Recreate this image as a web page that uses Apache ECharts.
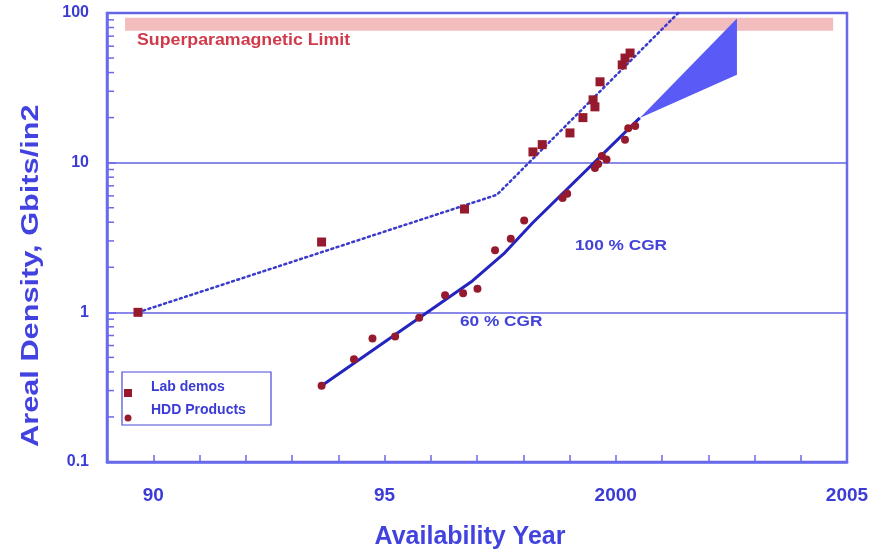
<!DOCTYPE html>
<html><head><meta charset="utf-8">
<script src="https://cdn.jsdelivr.net/npm/echarts@6/dist/echarts.min.js"></script>
<style>html,body{margin:0;padding:0;background:#fff}#c{width:886px;height:559px}</style>
</head><body><div id="c"></div>
<script>
// ---- data ----
const xTickLabels = {90: '90', 95: '95', 100: '2000', 105: '2005'};
const yTickLabels = {0.1: '0.1', 1: '1', 10: '10', 100: '100'};
const minorTickValues = [0.2,0.3,0.4,0.5,0.6,0.7,0.8,0.9,2,3,4,5,6,7,8,9,20,30,40,50,60,70,80,90];

const labYears  = [89.67, 93.64, 96.73, 98.21, 98.41, 99.01, 99.29, 99.51, 99.55, 99.66, 100.14, 100.2, 100.31];
const labValues = [1.0, 2.95, 4.9, 11.8, 13.2, 15.8, 20, 26.3, 23.6, 34.7, 45, 50, 54];

const hddYears  = [93.64, 94.34, 94.74, 95.23, 95.75, 96.31, 96.7, 97.01, 97.39, 97.73, 98.02, 98.85, 98.95, 99.55, 99.62, 99.7, 99.8, 100.2, 100.27, 100.42];
const hddValues = [0.323, 0.486, 0.668, 0.69, 0.92, 1.30, 1.34, 1.44, 2.6, 3.1, 4.1, 5.8, 6.2, 9.2, 9.8, 11.1, 10.5, 14.2, 17.0, 17.6];

const labTrendYears  = [89.67, 97.43, 101.35];
const labTrendValues = [1.0, 6.1, 100];

const hddTrendYears  = [93.64, 96.9, 97.6, 98.2, 100.52];
const hddTrendValues = [0.323, 1.62, 2.5, 3.95, 19.9];

const fanYears  = [100.52, 102.62, 102.62];
const fanValues = [19.9, 92, 38.6];

const bandYears  = [89.39, 104.7];
const bandValues = [76, 93];

// ---- chart ----
const BLUE = '#3b3bd6';
const FRAME = '#6a6aec';
const RED = '#951a2e';
const zip = (a, b) => a.map((v, i) => [v, b[i]]);

const chart = echarts.init(document.getElementById('c'), null, {renderer: 'canvas'});
chart.setOption({
  animation: false,
  backgroundColor: '#fff',
  grid: {left: 107, right: 39, top: 13, bottom: 97, show: true, borderColor: FRAME, borderWidth: 2.5, backgroundColor: 'transparent'},
  xAxis: {
    type: 'value', min: 89, max: 105, interval: 1,
    axisLine: {show: true, lineStyle: {color: FRAME, width: 2.5}},
    axisTick: {show: true, inside: true, length: 7, lineStyle: {color: FRAME, width: 1.5}},
    splitLine: {show: false},
    axisLabel: {
      margin: 24, color: BLUE, fontWeight: 'bold', fontSize: 19, fontFamily: 'Liberation Sans',
      formatter: v => xTickLabels[Math.round(v)] || ''
    },
    name: 'Availability Year', nameLocation: 'middle', nameGap: 63,
    nameTextStyle: {color: '#4242e0', fontWeight: 'bold', fontSize: 25, fontFamily: 'Liberation Sans', padding: [0, 14, 0, 0]}
  },
  yAxis: {
    type: 'log', logBase: 10, min: 0.1, max: 100,
    axisLine: {show: true, lineStyle: {color: FRAME, width: 2.5}},
    axisTick: {show: true, inside: true, length: 9, lineStyle: {color: FRAME, width: 1.5}},
    splitLine: {show: true, lineStyle: {color: '#6262e0', width: 1.5}},
    axisLabel: {
      margin: 18, color: BLUE, fontWeight: 'bold', fontSize: 16, fontFamily: 'Liberation Sans',
      formatter: v => yTickLabels[v] || String(v)
    }
  },
  series: [
    {
      type: 'custom', silent: true, z: 1,
      data: [[bandYears[0], bandValues[0]]],
      renderItem: (params, api) => {
        const p1 = api.coord([bandYears[0], bandValues[1]]);
        const p2 = api.coord([bandYears[1], bandValues[0]]);
        return {type: 'rect', shape: {x: p1[0], y: p1[1], width: p2[0] - p1[0], height: p2[1] - p1[1]}, style: {fill: '#f3bdbd'}};
      }
    },
    {
      type: 'custom', silent: true, z: 2,
      data: minorTickValues.map(v => [89, v]),
      renderItem: (params, api) => {
        const p = api.coord([api.value(0), api.value(1)]);
        return {type: 'line', shape: {x1: p[0], y1: p[1], x2: p[0] + 7, y2: p[1]}, style: {stroke: FRAME, lineWidth: 1.5}};
      }
    },
    {
      type: 'custom', silent: true, z: 3,
      data: [[fanYears[0], fanValues[0]]],
      renderItem: (params, api) => {
        const pts = fanYears.map((x, i) => api.coord([x, fanValues[i]]));
        return {type: 'polygon', shape: {points: pts}, style: {fill: '#5a5af6'}};
      }
    },
    {
      name: 'labTrend', type: 'line', z: 4, symbol: 'none', silent: true,
      data: zip(labTrendYears, labTrendValues),
      lineStyle: {color: '#3a3acc', width: 2.5, type: [2, 3.5], cap: 'round'}
    },
    {
      name: 'hddTrend', type: 'line', z: 4, symbol: 'none', silent: true,
      data: zip(hddTrendYears, hddTrendValues),
      lineStyle: {color: '#2424c0', width: 3}
    },
    {
      name: 'Lab demos', type: 'scatter', z: 5, symbol: 'rect', symbolSize: 9,
      data: zip(labYears, labValues),
      itemStyle: {color: RED, opacity: 1}
    },
    {
      name: 'HDD Products', type: 'scatter', z: 5, symbol: 'circle', symbolSize: 8,
      data: zip(hddYears, hddValues),
      itemStyle: {color: RED, opacity: 1}
    }
  ],
  graphic: [
    {type: 'text', x: 137, y: 33, scaleX: 1.11, z: 10, style: {text: 'Superparamagnetic Limit', fill: '#d03a4a', font: 'bold 16px "Liberation Sans"'}},
    {type: 'text', x: 575, y: 238, z: 10, scaleX: 1.15, style: {text: '100 % CGR', fill: '#4242d8', font: 'bold 15px "Liberation Sans"'}},
    {type: 'text', x: 460, y: 314, z: 10, scaleX: 1.15, style: {text: '60 % CGR', fill: '#4242d8', font: 'bold 15px "Liberation Sans"'}},
    {type: 'text', x: 19, y: 447, rotation: Math.PI / 2, scaleX: 1.28, z: 10,
      style: {text: 'Areal Density, Gbits/in2', fill: '#4242e0', font: 'bold 24px "Liberation Sans"', textVerticalAlign: 'top'}},
    {type: 'rect', z: 10, shape: {x: 122, y: 372, width: 149, height: 53}, style: {fill: '#fff', stroke: '#4a4ad8', lineWidth: 1.2}},
    {type: 'rect', z: 11, shape: {x: 124, y: 389, width: 8, height: 8}, style: {fill: RED}},
    {type: 'circle', z: 11, shape: {cx: 128, cy: 418, r: 3.5}, style: {fill: RED}},
    {type: 'text', x: 151, y: 380, z: 11, style: {text: 'Lab demos', fill: '#3b3bd6', font: 'bold 14px "Liberation Sans"'}},
    {type: 'text', x: 151, y: 403, z: 11, style: {text: 'HDD Products', fill: '#3b3bd6', font: 'bold 14px "Liberation Sans"'}}
  ]
});
</script>
</body></html>
